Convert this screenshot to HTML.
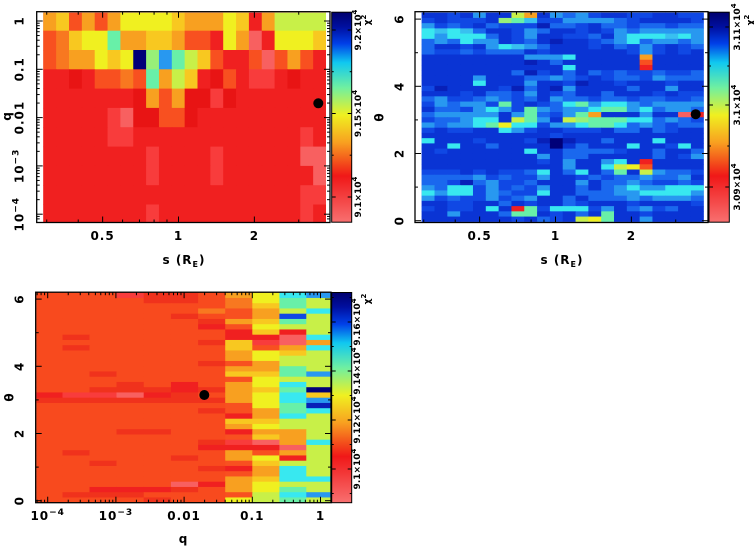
<!DOCTYPE html>
<html><head><meta charset="utf-8"><style>
html,body{margin:0;padding:0;background:#fff;}
body{width:754px;height:548px;overflow:hidden;}
svg{display:block;}
text{font-family:"DejaVu Sans","Liberation Sans",sans-serif;font-weight:bold;fill:#000;}
.t{font-size:12px;letter-spacing:1px;}
.cb{font-size:9px;}
</style></head><body>
<svg id="s" width="754" height="548" viewBox="0 0 754 548">
<defs>
<linearGradient id="cm" x1="0" y1="0" x2="0" y2="1">
<stop offset="0" stop-color="#00006e"/>
<stop offset="0.07" stop-color="#000fa0"/>
<stop offset="0.15" stop-color="#0040e8"/>
<stop offset="0.24" stop-color="#10c8f0"/>
<stop offset="0.36" stop-color="#70f0a0"/>
<stop offset="0.49" stop-color="#f0f020"/>
<stop offset="0.62" stop-color="#f8a020"/>
<stop offset="0.78" stop-color="#f01818"/>
<stop offset="1" stop-color="#f87070"/>
</linearGradient>
</defs>
<!-- fallback backgrounds -->
<rect x="43.3" y="12.7" width="282.7" height="209.2" fill="#f02020"/>
<rect x="421.7" y="12.7" width="282" height="209.1" fill="#1048e4"/>
<rect x="36.3" y="292.7" width="294.7" height="210" fill="#f84a1e"/>
<g id="heat"></g>
<!-- frames -->
<rect x="36.7" y="11.7" width="293.3" height="210.8" fill="none" stroke="#000" stroke-width="1.3"/>
<rect x="415" y="11.7" width="293" height="210.8" fill="none" stroke="#000" stroke-width="1.3"/>
<rect x="35.7" y="292.2" width="295.3" height="210.5" fill="none" stroke="#000" stroke-width="1.3"/>
<!-- colorbars -->
<rect x="331.7" y="12.2" width="20" height="210" fill="url(#cm)" stroke="#000" stroke-width="1"/>
<rect x="709" y="12.2" width="20.3" height="210" fill="url(#cm)" stroke="#000" stroke-width="1"/>
<rect x="331.7" y="292.5" width="20" height="210.2" fill="url(#cm)" stroke="#000" stroke-width="1"/>
<g id="ticks"></g>
<!-- markers -->
<circle cx="318.3" cy="103.3" r="5" fill="#000"/>
<circle cx="695.7" cy="114.2" r="5" fill="#000"/>
<circle cx="204.3" cy="395" r="5" fill="#000"/>

<!-- top-left labels -->
<text class="t" x="102.6" y="240" text-anchor="middle">0.5</text>
<text class="t" x="178.5" y="240" text-anchor="middle">1</text>
<text class="t" x="254.4" y="240" text-anchor="middle">2</text>
<text class="t" transform="translate(23.5,21) rotate(-90)" text-anchor="middle">1</text>
<text class="t" transform="translate(23.5,69.3) rotate(-90)" text-anchor="middle">0.1</text>
<text class="t" transform="translate(23.5,117.6) rotate(-90)" text-anchor="middle">0.01</text>
<text class="t" transform="translate(23.5,165.9) rotate(-90)" text-anchor="middle">10<tspan dy="-5" font-size="9">−3</tspan></text>
<text class="t" transform="translate(23.5,214.2) rotate(-90)" text-anchor="middle">10<tspan dy="-5" font-size="9">−4</tspan></text>
<text class="t" transform="translate(11,116) rotate(-90)" text-anchor="middle">q</text>
<text class="t" x="184" y="264" text-anchor="middle">s (R<tspan dy="3" font-size="8">E</tspan><tspan dy="-3">)</tspan></text>
<text class="cb" transform="translate(361,30) rotate(-90)" text-anchor="middle">9.2×10<tspan dy="-4" font-size="7">4</tspan></text>
<text class="cb" transform="translate(361,113.5) rotate(-90)" text-anchor="middle">9.15×10<tspan dy="-4" font-size="7">4</tspan></text>
<text class="cb" transform="translate(361,197) rotate(-90)" text-anchor="middle">9.1×10<tspan dy="-4" font-size="7">4</tspan></text>
<text class="cb" transform="translate(370,20) rotate(-90)" text-anchor="middle">χ<tspan dy="-4" font-size="7">2</tspan></text>

<!-- top-right labels -->
<text class="t" x="479.6" y="240" text-anchor="middle">0.5</text>
<text class="t" x="555.5" y="240" text-anchor="middle">1</text>
<text class="t" x="631.4" y="240" text-anchor="middle">2</text>
<text class="t" transform="translate(403.5,220.7) rotate(-90)" text-anchor="middle">0</text>
<text class="t" transform="translate(403.5,153.5) rotate(-90)" text-anchor="middle">2</text>
<text class="t" transform="translate(403.5,86.3) rotate(-90)" text-anchor="middle">4</text>
<text class="t" transform="translate(403.5,19.1) rotate(-90)" text-anchor="middle">6</text>
<text class="t" transform="translate(383.5,117) rotate(-90)" text-anchor="middle">θ</text>
<text class="t" x="562" y="264" text-anchor="middle">s (R<tspan dy="3" font-size="8">E</tspan><tspan dy="-3">)</tspan></text>
<text class="cb" transform="translate(740,27) rotate(-90)" text-anchor="middle">3.11×10<tspan dy="-4" font-size="7">4</tspan></text>
<text class="cb" transform="translate(740,105) rotate(-90)" text-anchor="middle">3.1×10<tspan dy="-4" font-size="7">4</tspan></text>
<text class="cb" transform="translate(740,187) rotate(-90)" text-anchor="middle">3.09×10<tspan dy="-4" font-size="7">4</tspan></text>
<text class="cb" transform="translate(753,20) rotate(-90)" text-anchor="middle">χ<tspan dy="-4" font-size="7">2</tspan></text>

<!-- bottom labels -->
<text class="t" x="47.7" y="520" text-anchor="middle">10<tspan dy="-5" font-size="9">−4</tspan></text>
<text class="t" x="115.9" y="520" text-anchor="middle">10<tspan dy="-5" font-size="9">−3</tspan></text>
<text class="t" x="184.1" y="520" text-anchor="middle">0.01</text>
<text class="t" x="252.3" y="520" text-anchor="middle">0.1</text>
<text class="t" x="320.5" y="520" text-anchor="middle">1</text>
<text class="t" transform="translate(23.5,500.7) rotate(-90)" text-anchor="middle">0</text>
<text class="t" transform="translate(23.5,433.5) rotate(-90)" text-anchor="middle">2</text>
<text class="t" transform="translate(23.5,366.3) rotate(-90)" text-anchor="middle">4</text>
<text class="t" transform="translate(23.5,299.1) rotate(-90)" text-anchor="middle">6</text>
<text class="t" transform="translate(13.5,397) rotate(-90)" text-anchor="middle">θ</text>
<text class="t" x="183.5" y="543" text-anchor="middle">q</text>
<text class="cb" transform="translate(360,322) rotate(-90)" text-anchor="middle">9.16×10<tspan dy="-4" font-size="7">4</tspan></text>
<text class="cb" transform="translate(360,371) rotate(-90)" text-anchor="middle">9.14×10<tspan dy="-4" font-size="7">4</tspan></text>
<text class="cb" transform="translate(360,420) rotate(-90)" text-anchor="middle">9.12×10<tspan dy="-4" font-size="7">4</tspan></text>
<text class="cb" transform="translate(360,469) rotate(-90)" text-anchor="middle">9.1×10<tspan dy="-4" font-size="7">4</tspan></text>
<text class="cb" transform="translate(370,299) rotate(-90)" text-anchor="middle">χ<tspan dy="-4" font-size="7">2</tspan></text>
</svg>
<script>
(function(){
var svg=document.getElementById('s');var NS=svg.namespaceURI;
var P={N:'#000078',D:'#0820b8',b:'#0a34d4',B:'#1048e4',l:'#1a68ee',L:'#2898f0',c:'#38c0f0',C:'#38e8f0',G:'#68f0a8',g:'#98f078',y:'#c8f048',Y:'#f0f020',a:'#f8c820',A:'#f8a020',o:'#f87820',O:'#f85020',R:'#f02020',r:'#e81414',p:'#f83c3c',P:'#f86060',Q:'#f84a1e',q:'#f0321c'};
var heat=document.getElementById('heat'),tks=document.getElementById('ticks');
function rect(g,x,y,w,h,f){var e=document.createElementNS(NS,'rect');e.setAttribute('x',x.toFixed(2));e.setAttribute('y',y.toFixed(2));e.setAttribute('width',w.toFixed(2));e.setAttribute('height',h.toFixed(2));e.setAttribute('fill',f);g.appendChild(e);}
function grid(rows,xs,ys){
 for(var j=0;j<rows.length;j++){var s=rows[j];
  for(var i=0;i<s.length;i++){var w=xs[i+1]-xs[i]+(i<s.length-1?0.5:0);var h=ys[j+1]-ys[j]+(j<rows.length-1?0.5:0);
   rect(heat,xs[i],ys[j],w,h,P[s[i]]||'#f02020');}}
}
// top-left
var tl=["AaOAOAYYYYaAAAYaRAyyyy","OoaYYGAAaaAOORYAPRYYYa","OoAAYaYNgLGyaORROPOAOR","RRrROOoOGAyaRrORppRrRR","RRRRRRRrAOArrprRRRRRRR","RRRRRpPrrOOrRRRRRRRRRR","RRRRRppRRRRRRRRRRRRRpR","RRRRRRRRpRRRRpRRRRRRPP","RRRRRRRRpRRRRpRRRRRRRP","RRRRRRRRRRRRRRRRRRRRpp","RRRRRRRRpRRRRRRRRRRRpR"];
var xs=[],ys=[12.7,30.7,50.0,69.3,88.6,107.9,127.2,146.6,165.9,185.2,204.5,221.9];
for(var i=0;i<=22;i++)xs.push(43.3+12.85*i);
grid(tl,xs,ys);
// top-right
var tr=["bbBbLbbyAbLlLBbbBBbbBB","BbBBBbgGcBBLLLLlBbbbbB","LBlBblBBBDllBbllBllBll","CcCclbbBLlbbBbBLlLLLLL","CLCCClbBLbbBBlbLCCCcCL","lLlCLLbBlbDbbBlLClLLlL","lbbBbLCcLlbbbBblBLBbBl","lBBlBlllbBbbbbbbBLBbBb","bbbbbbbbLLLCbbbbbAbbbb","bbbbbbbbDblbbbbbbObbbb","bbbbbbbbbbbCbbbbbRbbbb","bbbbbbblDBblblBlBBlBBl","bbbbLbbbllLlBbBllBLlll","bbbbCbbbLbbBDbbBbbbBbb","BDbbbbBDlbDLbbbblbbLbb","bbbBbllBLbBlbblbbbBbBB","lLBBlLlBlbLllBllBllBBl","BLlLLBGBbBlCGLCCLlLLLL","bllBLCLBGLlLLCGGLClLLl","lLLLLLbLGlBLGAbbbLbbPR","BllLCCbyGLbygGGGCClLlB","LlLLCGYCCBLLCGGClLlBll","BbBBbbCLBbbBBBbllblBbb","bbbbbbbbbbBbbbbbbbbbbb","CbbbBbbbBDNDbblbbbCbbb","bbCbblbbbbNblbbbCbbBCb","bBbbbbbbCbbllllBbblbbl","bbbbbbbbbLbllbbbbblbBL","bbbbbbbbbBbLbbLCbRbbbb","bbbbbbbbbbbLbbCyYObbbb","BBBbBbBBlCblCblGbyLllB","llllLBlBBLbbBlBllLllLb","llBDlLBBlbbbLbllLlBBlB","LlCCBLBlBLbblblLCLLCCC","CLCCBLlBBCbblllLLCCCCL","LBlBBLBlLbblblllLlLLLl","bbBBbblbBbblBbbbBbbbbB","BbBBbCbRGBCCCBLblLBlbb","bbLbbblGGbBblbGbbBbbbb","bbbbbbbBblBbyYGbbLbbbb"];
xs=[];ys=[];
for(i=0;i<=22;i++)xs.push(421.7+12.82*i);
for(i=0;i<=40;i++)ys.push(12.7+5.2275*i);
grid(tr,xs,ys);
// bottom (columns given top->bottom)
var bc=["QQQQQQQQQQQQQQQQQQQRqQQQQQQQQQQQQQQQQQQQ","QQQQQQQQqQqQQQQQQQQpqQQQQQQQQQqQQQQQQQqQ","QQQQQQQQQQQQQQQqQQqpqQQQQQQQQQQQqQQQQRqQ","pQQQQQQQQQQQQQQQQqqPqQQQQQqQQQQQQQQQQRqQ","qqQQQQQQQQQQQQQQQQqRqQQQQQqQQQQQQQQQQRQq","qqQQqQQQQQQQQQQQQRRqqQQQQQQQQQQqQQQQPqQ","QQQoQqRQQqQQQqQQQQqQqQqQQQQQqRQQQqQQRQQQ","AooOOAORRaaAAOAaOAAAAOORaAROpRAAOROAAAOY","YYaAAaYaRpOYYAAaYYaYYYAAaYAaPROYaAAaYYyy","CGGyBGyRPPAayyGGyCGCCGGCyyAAAPARyCCCyGCG","LyyCyyyyCACyyyyLyyNaLDCyyyyyCyyyyyyCyyLy"];
var br=[];for(var j=0;j<40;j++){var s='';for(i=0;i<bc.length;i++)s+=bc[i][j]||'Q';br.push(s);}
xs=[36.3,62.5,89.5,116.5,143.7,170.9,198.1,225.2,252.3,279.4,306.3,331.0];ys=[];
for(i=0;i<=40;i++)ys.push(292.7+5.25*i);
grid(br,xs,ys);
// ticks
function tk(x1,y1,x2,y2){var e=document.createElementNS(NS,'line');e.setAttribute('x1',x1.toFixed(2));e.setAttribute('y1',y1.toFixed(2));e.setAttribute('x2',x2.toFixed(2));e.setAttribute('y2',y2.toFixed(2));e.setAttribute('stroke','#000');e.setAttribute('stroke-width','1');tks.appendChild(e);}
var n,k,v,p,len;
// top-left q axis
for(n=-5;n<=0;n++)for(k=1;k<=9;k++){v=k*Math.pow(10,n);p=69.3-48.3*Math.log10(v/0.1);if(p<12.5||p>221.5)continue;len=(k==1)?6:3;tk(36.7,p,36.7+len,p);tk(330,p,330-len,p);}
// s axes
var sv=[0.3,0.4,0.5,0.6,0.7,0.8,0.9,1,2,3,4];
[178.5,555.5].forEach(function(off,idx){var L=idx?415:36.7,R=idx?708:330;
 sv.forEach(function(s){p=off+252*Math.log10(s);if(p<L+1||p>R-1)return;len=(s==0.5||s==1||s==2)?6:3;tk(p,222.5,p,222.5-len);tk(p,11.7,p,11.7+len);});});
// theta axes
for(k=0;k<=6;k++){len=(k%2==0)?6:3;p=220.7-33.6*k;tk(415,p,415+len,p);tk(708,p,708-len,p);
 p=500.7-33.6*k;tk(35.7,p,35.7+len,p);tk(331,p,331-len,p);}
// bottom q axis
for(n=-5;n<=0;n++)for(k=1;k<=9;k++){v=k*Math.pow(10,n);p=252.3+68.2*Math.log10(v/0.1);if(p<36.5||p>330.5)continue;len=(k==1)?6:3;tk(p,502.7,p,502.7-len);tk(p,292.2,p,292.2+len);}
// colorbar ticks
[[30,4],[71.7,2],[113.5,4],[155.2,2],[197,4]].forEach(function(a){tk(351.7,a[0],351.7-a[1],a[0]);tk(331.7,a[0],331.7+a[1],a[0]);});
[[27,4],[66,2],[105,4],[146,2],[187,4]].forEach(function(a){tk(729.3,a[0],729.3-a[1],a[0]);tk(709,a[0],709+a[1],a[0]);});
[[297.5,2],[322,4],[346.5,2],[371,4],[395.5,2],[420,4],[444.5,2],[469,4],[493.5,2]].forEach(function(a){tk(351.7,a[0],351.7-a[1],a[0]);tk(331.7,a[0],331.7+a[1],a[0]);});
})();
</script>
</body></html>
